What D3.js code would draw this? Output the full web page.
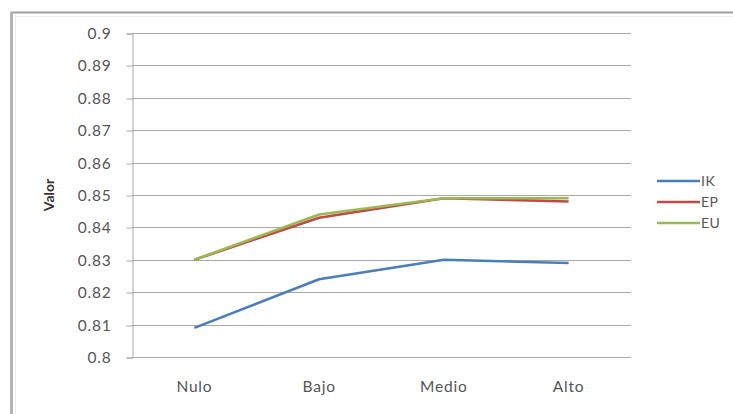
<!DOCTYPE html>
<html>
<head>
<meta charset="utf-8">
<script src="https://cdn.jsdelivr.net/npm/d3@7"></script>
<style>
  html, body { margin: 0; padding: 0; background: #fff; }
  svg { display: block; }
  text { font-family: Lato, "Open Sans", "Liberation Sans", sans-serif; }
</style>
</head>
<body>
<svg id="chart" width="733" height="414"></svg>
<script>
// Categories along the x axis
const categories = ["Nulo", "Bajo", "Medio", "Alto"];

// Series values
const seriesNames = ["IK", "EP", "EU"];
const ikValues = [0.809, 0.824, 0.830, 0.829];
const epValues = [0.830, 0.843, 0.849, 0.848];
const euValues = [0.830, 0.844, 0.849, 0.849];

// Y axis tick labels
const yTicks = [0.8, 0.81, 0.82, 0.83, 0.84, 0.85, 0.86, 0.87, 0.88, 0.89, 0.9];
const yTickLabels = ["0.8", "0.81", "0.82", "0.83", "0.84", "0.85", "0.86", "0.87", "0.88", "0.89", "0.9"];

const seriesColors = { IK: "#4a7ebb", EP: "#be4b48", EU: "#98b954" };
const series = [
  { name: "IK", values: ikValues },
  { name: "EP", values: epValues },
  { name: "EU", values: euValues }
];

const svg = d3.select("#chart");

// Outer chart frame (top and left edges visible)
svg.append("line").attr("x1", 11).attr("x2", 733).attr("y1", 12.5).attr("y2", 12.5)
  .attr("stroke", "#a0a0a0").attr("stroke-width", 2);
svg.append("line").attr("x1", 11.5).attr("x2", 11.5).attr("y1", 12).attr("y2", 414)
  .attr("stroke", "#b4b4b4").attr("stroke-width", 3);
svg.append("line").attr("x1", 15.5).attr("x2", 15.5).attr("y1", 15).attr("y2", 414)
  .attr("stroke", "#eeeeee").attr("stroke-width", 1);
svg.append("line").attr("x1", 15).attr("x2", 733).attr("y1", 16.5).attr("y2", 16.5)
  .attr("stroke", "#eeeeee").attr("stroke-width", 1);

const plot = { left: 132, right: 631, top: 33, bottom: 357 };

const x = d3.scaleBand().domain(categories).range([plot.left, plot.right]);
const y = d3.scaleLinear().domain([0.8, 0.9]).range([plot.bottom, plot.top]);

const labelFont = "15.5px";
const labelSpacing = "0.8px";

// Horizontal gridlines
svg.append("g")
  .selectAll("line")
  .data(yTicks)
  .join("line")
  .attr("x1", plot.left)
  .attr("x2", plot.right)
  .attr("y1", d => Math.round(y(d)) + 0.5)
  .attr("y2", d => Math.round(y(d)) + 0.5)
  .attr("stroke", "#a8a8a8")
  .attr("stroke-width", 1.2);

// Y axis
const yAxis = d3.axisLeft(y)
  .tickValues(yTicks)
  .tickFormat((d, i) => yTickLabels[i])
  .tickSize(6)
  .tickPadding(15);
const gy = svg.append("g").attr("transform", `translate(${plot.left + 0.5},0.5)`).call(yAxis);
gy.select(".domain").attr("stroke", "#a8a8a8");
gy.selectAll(".tick line").attr("stroke", "#a8a8a8")
  .attr("transform", d => `translate(0,${Math.round(y(d)) - y(d)})`);
gy.selectAll(".tick text")
  .attr("fill", "#555")
  .style("font-size", labelFont)
  .style("letter-spacing", labelSpacing)
  .style("font-family", "Lato, 'Open Sans', sans-serif");

// X axis (labels only)
const xAxis = d3.axisBottom(x).tickSize(0).tickPadding(24);
const gx = svg.append("g").attr("transform", `translate(0,${plot.bottom})`).call(xAxis);
gx.select(".domain").remove();
gx.selectAll(".tick text")
  .attr("fill", "#555")
  .style("font-size", labelFont)
  .style("letter-spacing", labelSpacing)
  .style("font-family", "Lato, 'Open Sans', sans-serif");

// Y axis title
svg.append("text")
  .attr("transform", `translate(54,${(plot.top + plot.bottom) / 2}) rotate(-90)`)
  .attr("text-anchor", "middle")
  .attr("fill", "#333")
  .style("font-size", "14px")
  .style("font-weight", "bold")
  .text("Valor");

// Series lines
const line = d3.line()
  .x((d, i) => x(categories[i]) + x.bandwidth() / 2)
  .y(d => y(d));

svg.append("g")
  .selectAll("path")
  .data(series)
  .join("path")
  .attr("d", d => line(d.values))
  .attr("fill", "none")
  .attr("stroke", d => seriesColors[d.name])
  .attr("stroke-width", 2.6)
  .attr("stroke-linejoin", "round");

// Legend
const legendY = d3.scalePoint().domain(seriesNames).range([181, 223]);
const legend = svg.append("g")
  .selectAll("g")
  .data(seriesNames)
  .join("g")
  .attr("transform", d => `translate(657,${legendY(d)})`);
legend.append("line")
  .attr("x1", 0).attr("x2", 43)
  .attr("y1", 0).attr("y2", 0)
  .attr("stroke", d => seriesColors[d])
  .attr("stroke-width", 2.6);
legend.append("text")
  .attr("x", 44)
  .attr("dy", "0.36em")
  .attr("fill", "#555")
  .style("font-size", "14px")
  .style("letter-spacing", "0.5px")
  .text(d => d);
</script>
</body>
</html>
